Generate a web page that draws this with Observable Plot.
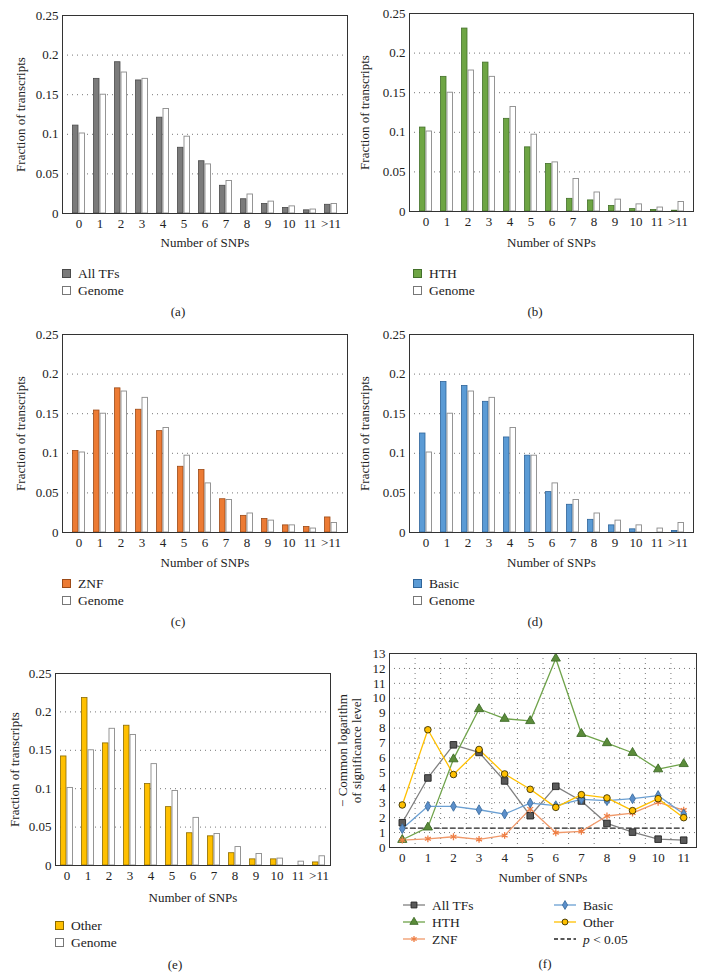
<!DOCTYPE html>
<html><head><meta charset="utf-8">
<script src="https://cdn.jsdelivr.net/npm/d3@7"></script>
<script src="https://cdn.jsdelivr.net/npm/@observablehq/plot@0.6"></script>
<style>
body{margin:0;background:#fff;}
#page{position:relative;width:706px;height:978px;font-family:"Liberation Serif","Times New Roman",Times,serif;color:#222;overflow:hidden;}
.panel{position:absolute;}
.cap{position:absolute;font-size:13px;transform:translateX(-50%);white-space:nowrap;line-height:16px;}
.leg{position:absolute;font-size:13.5px;line-height:17px;}
.leg .it{display:flex;align-items:center;height:17px;white-space:nowrap;}
.sw{display:inline-block;width:7px;height:7px;border:1px solid #666;margin-right:7px;}
.leg svg{margin-right:6px;}
</style></head>
<body><div id="page"></div>
<script>
// ---------- data ----------
const categories = ["0","1","2","3","4","5","6","7","8","9","10","11",">11"];
const genome = [0.101,0.150,0.178,0.170,0.132,0.097,0.062,0.041,0.024,0.015,0.009,0.005,0.012];
const allTFs = [0.111,0.170,0.191,0.168,0.121,0.083,0.066,0.035,0.018,0.012,0.007,0.004,0.011];
const hth    = [0.106,0.170,0.231,0.188,0.117,0.081,0.060,0.016,0.014,0.007,0.003,0.002,0.001];
const znf    = [0.103,0.154,0.182,0.155,0.128,0.083,0.079,0.042,0.021,0.017,0.009,0.007,0.019];
const basic  = [0.125,0.190,0.185,0.165,0.120,0.097,0.051,0.035,0.016,0.009,0.004,0.000,0.002];
const other  = [0.142,0.218,0.159,0.182,0.106,0.076,0.042,0.038,0.016,0.008,0.008,0.000,0.004];
const fractionTicks = [0,0.05,0.1,0.15,0.2,0.25];

const snpCounts = [0,1,2,3,4,5,6,7,8,9,10,11];
const sigAllTFs = [1.66,4.66,6.88,6.37,4.46,2.13,4.10,3.12,1.61,1.03,0.56,0.49];
const sigHTH    = [0.52,1.35,5.92,9.28,8.63,8.48,12.67,7.62,7.00,6.35,5.25,5.60];
const sigZNF    = [0.49,0.58,0.72,0.54,0.81,2.58,0.99,1.08,2.11,2.31,3.03,2.51];
const sigBasic  = [1.26,2.76,2.76,2.53,2.24,2.98,2.80,3.23,3.14,3.27,3.48,2.24];
const sigOther  = [2.85,7.89,4.89,6.57,4.93,3.90,2.69,3.54,3.32,2.47,3.27,2.00];
const sigTicks  = [0,1,2,3,4,5,6,7,8,9,10,11,12,13];
const pValue = 0.05;

// ---------- helpers ----------
const page = document.getElementById("page");
const FONT = "'Liberation Serif', 'Times New Roman', Times, serif";
function place(node, left, top) {
  const d = document.createElement("div");
  d.className = "panel"; d.style.left = left + "px"; d.style.top = top + "px";
  d.appendChild(node); page.appendChild(d); return d;
}
function caption(text, cx, cy) {
  const d = document.createElement("div");
  d.className = "cap"; d.textContent = text;
  d.style.left = cx + "px"; d.style.top = (cy - 8) + "px";
  page.appendChild(d);
}
function boxLegend(items, left, cy) {
  const d = document.createElement("div");
  d.className = "leg"; d.style.left = left + "px"; d.style.top = (cy - 8.5) + "px";
  for (const [name, fill, stroke] of items) {
    const it = document.createElement("div"); it.className = "it";
    const sw = document.createElement("span"); sw.className = "sw";
    sw.style.background = fill; sw.style.borderColor = stroke;
    it.appendChild(sw); it.appendChild(document.createTextNode(name));
    d.appendChild(it);
  }
  page.appendChild(d);
}

function barPanel(values, fill, stroke, m) {
  const rows = categories.map((c, i) => ({cat: c, v: values[i], g: genome[i]}));
  return Plot.plot({
    width: m.w, height: m.h,
    marginLeft: m.ml, marginRight: m.mr, marginTop: m.mt, marginBottom: m.mb,
    style: {fontFamily: FONT, fontSize: "13px", color: "#222", background: "transparent"},
    x: {domain: categories, padding: 0, tickSize: 0, tickPadding: 5,
        label: "Number of SNPs", labelAnchor: "center", labelArrow: "none", labelOffset: m.mb - 4},
    y: {domain: [0, 0.25], ticks: fractionTicks, tickSize: 0, tickPadding: 4,
        tickFormat: d => String(+d.toFixed(2)),
        label: "Fraction of transcripts", labelAnchor: "center", labelArrow: "none", labelOffset: m.ylo},
    marks: [
      Plot.gridY(fractionTicks.slice(1, -1), {stroke: "#777", strokeOpacity: 1, strokeDasharray: "1,4"}),
      Plot.barY(rows.filter(d => d.v > 0), {x: "cat", y: "v", fill, stroke, strokeWidth: 0.8, insetLeft: 4.5, insetRight: 11}),
      Plot.barY(rows, {x: "cat", y: "g", fill: "#fff", stroke: "#8a8a8a", strokeWidth: 0.9, insetLeft: 11, insetRight: 4.5}),
      Plot.frame({stroke: "#333", strokeWidth: 1})
    ]
  });
}

const COLORS = {
  all:   {line: "#808080", fill: "#5a5a5a", stroke: "#222", sym: "square", r: 3.7},
  hth:   {line: "#6fa34a", fill: "#5b8c3a", stroke: "#3e6b28", sym: "triangle", r: 3.4},
  znf:   {line: "#f0996a", fill: "none", stroke: "#ef7f45", sym: "asterisk", r: 3.2},
  basic: {line: "#6a9fd2", fill: "#5b8fcb", stroke: "#3f6f9f", sym: "diamond", r: 3.0},
  other: {line: "#ffc000", fill: "#ffc000", stroke: "#3a3000", sym: "circle", r: 3.3}
};

// ---------- bar panels ----------
place(barPanel(allTFs, "#7b7b7b", "#4a4a4a", {w: 353, h: 250, ml: 62, mr: 6, mt: 15, mb: 37, ylo: 47}), 0, 0);
place(barPanel(hth, "#6ea544", "#43702a", {w: 353, h: 250, ml: 56, mr: 13, mt: 13, mb: 39, ylo: 50}), 353, 0);
place(barPanel(znf, "#ec7b34", "#9c4a17", {w: 353, h: 250, ml: 62, mr: 6, mt: 14, mb: 38, ylo: 47}), 0, 320);
place(barPanel(basic, "#5b9bd5", "#2f6499", {w: 353, h: 250, ml: 56, mr: 13, mt: 14, mb: 38, ylo: 50}), 353, 320);
place(barPanel(other, "#ffc000", "#8a6a00", {w: 335, h: 250, ml: 55, mr: 5, mt: 18, mb: 40, ylo: 46}), 0, 655);

boxLegend([["All TFs", "#7b7b7b", "#4a4a4a"], ["Genome", "#fff", "#777"]], 62, 273);
boxLegend([["HTH", "#6ea544", "#43702a"], ["Genome", "#fff", "#777"]], 413, 273);
boxLegend([["ZNF", "#ec7b34", "#9c4a17"], ["Genome", "#fff", "#777"]], 62, 583);
boxLegend([["Basic", "#5b9bd5", "#2f6499"], ["Genome", "#fff", "#777"]], 413, 583);
boxLegend([["Other", "#ffc000", "#8a6a00"], ["Genome", "#fff", "#777"]], 55, 925);

caption("(a)", 178, 312);
caption("(b)", 535, 312);
caption("(c)", 178, 622);
caption("(d)", 535, 622);
caption("(e)", 175, 965);
caption("(f)", 545, 964);

// ---------- line panel (f) ----------
const series = [
  ["All TFs", sigAllTFs, COLORS.all],
  ["HTH", sigHTH, COLORS.hth],
  ["ZNF", sigZNF, COLORS.znf],
  ["Basic", sigBasic, COLORS.basic],
  ["Other", sigOther, COLORS.other]
];
const lineMarks = [];
for (const [name, vals, c] of series) {
  const pts = snpCounts.map((x, i) => ({x, y: vals[i]}));
  lineMarks.push(Plot.line(pts, {x: "x", y: "y", stroke: c.line, strokeWidth: 1.3}));
}
for (const [name, vals, c] of series) {
  const pts = snpCounts.map((x, i) => ({x, y: vals[i]}));
  lineMarks.push(Plot.dot(pts, {x: "x", y: "y", symbol: c.sym, r: c.r, fill: c.fill, stroke: c.stroke, strokeWidth: c.sym === "asterisk" ? 1.3 : 0.9}));
}
const threshold = -Math.log10(pValue);
const fPlot = Plot.plot({
  width: 371, height: 250, marginLeft: 54, marginRight: 10, marginTop: 13, marginBottom: 43,
  style: {fontFamily: FONT, fontSize: "13px", color: "#222", background: "transparent"},
  x: {domain: [-0.5, 11.5], ticks: snpCounts, tickSize: 0, tickPadding: 5, tickFormat: d => String(d),
      label: "Number of SNPs", labelAnchor: "center", labelArrow: "none", labelOffset: 34},
  y: {domain: [0, 13], ticks: sigTicks, tickSize: 0, tickPadding: 4, label: null},
  marks: [
    Plot.ruleY(sigTicks.slice(1, -1), {stroke: "#777", strokeDasharray: "1,4"}),
    Plot.ruleX(snpCounts.slice(1).map(d => d - 0.5), {stroke: "#777", strokeDasharray: "1,4"}),
    Plot.lineY(snpCounts, {x: d => d, y: () => threshold, stroke: "#222", strokeWidth: 1.2, strokeDasharray: "5,3"}),
    ...lineMarks,
    Plot.text(["− Common logarithm\nof significance level"], {frameAnchor: "left", textAnchor: "middle", rotate: -90, dx: -40, lineAnchor: "middle", lineHeight: 1.1, fontSize: 13}),
    Plot.frame({stroke: "#333", strokeWidth: 1})
  ]
});
place(fPlot, 335, 640);

// f legend
function lineLegendItem(name, c, dashed) {
  const it = document.createElement("div"); it.className = "it";
  const svg = d3.create("svg").attr("width", 24).attr("height", 12);
  svg.append("line").attr("x1", 1).attr("x2", 23).attr("y1", 6).attr("y2", 6)
    .attr("stroke", dashed ? "#222" : c.line).attr("stroke-width", 1.3)
    .attr("stroke-dasharray", dashed ? "4,2.5" : null);
  if (!dashed) {
    const symMap = {square: d3.symbolSquare, triangle: d3.symbolTriangle, asterisk: d3.symbolAsterisk, diamond: d3.symbolDiamond, circle: d3.symbolCircle};
    svg.append("path").attr("transform", "translate(12,6)")
      .attr("d", d3.symbol(symMap[c.sym], Math.PI * c.r * c.r * 0.8)())
      .attr("fill", c.fill).attr("stroke", c.stroke).attr("stroke-width", c.sym === "asterisk" ? 1.3 : 0.9);
  }
  it.appendChild(svg.node());
  if (dashed) {
    const i = document.createElement("i"); i.textContent = "p";
    it.appendChild(i); it.appendChild(document.createTextNode("\u00a0< 0.05"));
  } else {
    it.appendChild(document.createTextNode(name));
  }
  return it;
}
function lineLegend(items, left, cy) {
  const d = document.createElement("div");
  d.className = "leg"; d.style.left = left + "px"; d.style.top = (cy - 8.5) + "px";
  for (const [name, c, dashed] of items) d.appendChild(lineLegendItem(name, c, dashed));
  page.appendChild(d);
}
lineLegend([["All TFs", COLORS.all], ["HTH", COLORS.hth], ["ZNF", COLORS.znf]], 402, 905);
lineLegend([["Basic", COLORS.basic], ["Other", COLORS.other], ["p < 0.05", null, true]], 553, 905);
</script>
</body></html>
